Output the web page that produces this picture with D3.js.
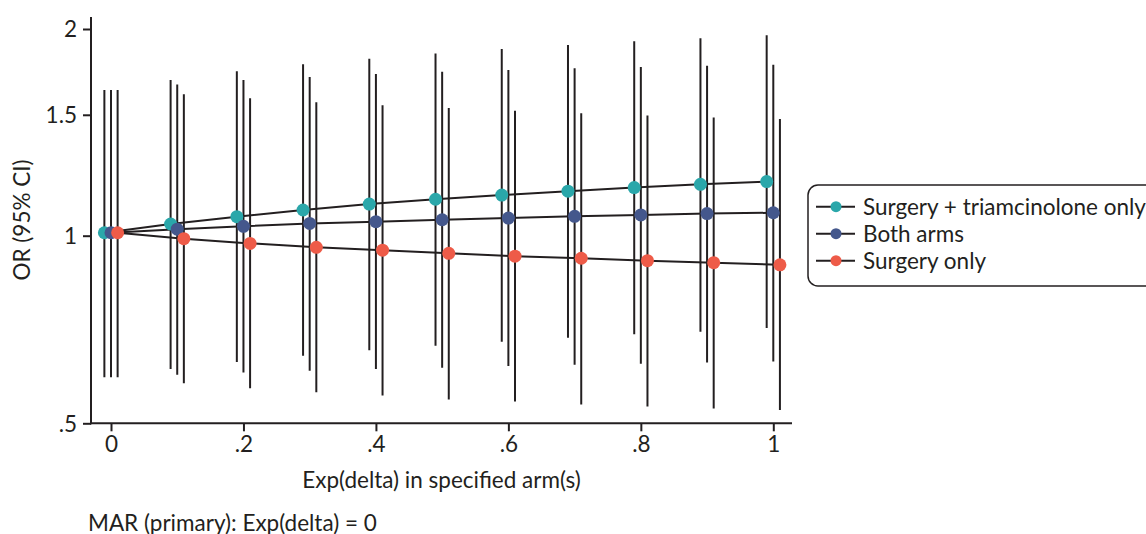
<!DOCTYPE html>
<html>
<head>
<meta charset="utf-8">
<script src="https://cdn.jsdelivr.net/npm/d3@7"></script>
<style>
  body { margin: 0; background: #fff; }
  svg { display: block; font-family: Lato, "Open Sans", sans-serif; }
</style>
</head>
<body>
<svg width="1146" height="534"></svg>
<script>
// Exp(delta) values on the x axis
const deltas = [0, 0.1, 0.2, 0.3, 0.4, 0.5, 0.6, 0.7, 0.8, 0.9, 1];

const seriesNames = ['Surgery + triamcinolone only', 'Both arms', 'Surgery only'];

// OR estimates
const orTriam = [1.01, 1.040, 1.066, 1.090, 1.112, 1.130, 1.146, 1.161, 1.175, 1.188, 1.199];
const orBoth  = [1.01, 1.022, 1.032, 1.042, 1.048, 1.055, 1.061, 1.067, 1.072, 1.077, 1.080];
const orSurg  = [1.01, 0.989, 0.972, 0.958, 0.948, 0.937, 0.927, 0.920, 0.912, 0.905, 0.898];

// 95% CI bounds
const loTriam = [0.593, 0.611, 0.627, 0.642, 0.655, 0.666, 0.676, 0.686, 0.695, 0.701, 0.711];
const hiTriam = [1.630, 1.686, 1.736, 1.777, 1.810, 1.843, 1.870, 1.895, 1.919, 1.939, 1.958];
const loBoth  = [0.593, 0.598, 0.603, 0.607, 0.611, 0.614, 0.618, 0.621, 0.623, 0.626, 0.628];
const hiBoth  = [1.630, 1.661, 1.686, 1.703, 1.720, 1.733, 1.743, 1.753, 1.761, 1.768, 1.774];
const loSurg  = [0.593, 0.580, 0.569, 0.561, 0.554, 0.546, 0.542, 0.536, 0.532, 0.528, 0.525];
const hiSurg  = [1.630, 1.607, 1.585, 1.564, 1.549, 1.535, 1.521, 1.508, 1.497, 1.487, 1.479];

const xTicks = [0, 0.2, 0.4, 0.6, 0.8, 1];
const xTickLabels = ['0', '.2', '.4', '.6', '.8', '1'];
const yTicks = [2, 1.5, 1, 0.5];
const yTickLabels = ['2', '1.5', '1', '.5'];

const COLORS = ['#2aa7aa', '#44578c', '#ee5b48'];
const OFFSETS = [-0.01, 0, 0.01];
const INK = '#231f20';
const FONT = 22.5;

const series = seriesNames.map((name, i) => ({
    name: name,
    color: COLORS[i],
    offset: OFFSETS[i],
    values: deltas.map((d, j) => ({
        x: d,
        or: [orTriam, orBoth, orSurg][i][j],
        lo: [loTriam, loBoth, loSurg][i][j],
        hi: [hiTriam, hiBoth, hiSurg][i][j]
    }))
}));

var svg = d3.select('svg');

/* scales */
var x = d3.scaleLinear()
    .domain([0, 1])
    .range([111, 773.3]);

// log scale, drawn piecewise like the original
var y = d3.scaleLog()
    .domain([0.5, 1, 2])
    .range([423.3, 235.7, 29]);

const plotLeft = 91, plotRight = 792, plotTop = 17, plotBottom = 423.3;

/* CI bars */
series.forEach(s => {
    svg.append('g')
        .selectAll('line')
        .data(s.values)
        .join('line')
        .attr('x1', d => x(d.x + s.offset))
        .attr('x2', d => x(d.x + s.offset))
        .attr('y1', d => y(d.lo))
        .attr('y2', d => y(d.hi))
        .attr('stroke', INK)
        .attr('stroke-width', 2);
});

/* connecting lines */
series.forEach(s => {
    svg.append('path')
        .datum(s.values)
        .attr('fill', 'none')
        .attr('stroke', INK)
        .attr('stroke-width', 2)
        .attr('d', d3.line()
            .x(d => x(d.x + s.offset))
            .y(d => y(d.or)));
});

/* points */
series.forEach(s => {
    svg.append('g')
        .selectAll('circle')
        .data(s.values)
        .join('circle')
        .attr('cx', d => x(d.x + s.offset))
        .attr('cy', d => y(d.or))
        .attr('r', 6.5)
        .attr('fill', s.color);
});

/* axes */
var xAxis = svg.append('g')
    .attr('transform', 'translate(0,' + plotBottom + ')')
    .call(d3.axisBottom(x)
        .tickValues(xTicks)
        .tickFormat((d, i) => xTickLabels[i])
        .tickSize(8)
        .tickPadding(5));

var yAxis = svg.append('g')
    .attr('transform', 'translate(' + plotLeft + ',0)')
    .call(d3.axisLeft(y)
        .tickValues(yTicks)
        .tickFormat((d, i) => yTickLabels[i])
        .tickSize(8)
        .tickPadding(6));

[xAxis, yAxis].forEach(a => {
    a.select('.domain').remove();
    a.selectAll('.tick line').attr('stroke', INK).attr('stroke-width', 2);
    a.selectAll('.tick text')
        .attr('fill', INK)
        .style('font-size', FONT + 'px')
        .style('font-family', 'Lato, sans-serif');
});
yAxis.selectAll('.tick text').attr('dy', '0.35em');

svg.append('line')
    .attr('x1', plotLeft).attr('x2', plotLeft)
    .attr('y1', plotTop).attr('y2', plotBottom + 1)
    .attr('stroke', INK).attr('stroke-width', 2);
svg.append('line')
    .attr('x1', plotLeft - 1).attr('x2', plotRight)
    .attr('y1', plotBottom).attr('y2', plotBottom)
    .attr('stroke', INK).attr('stroke-width', 2);

/* titles */
svg.append('text')
    .attr('x', (plotLeft + plotRight) / 2)
    .attr('y', 488)
    .attr('text-anchor', 'middle')
    .attr('fill', INK)
    .style('font-size', FONT + 'px')
    .text('Exp(delta) in specified arm(s)');

svg.append('text')
    .attr('transform', 'translate(30,' + 220 + ') rotate(-90)')
    .attr('text-anchor', 'middle')
    .attr('fill', INK)
    .style('font-size', FONT + 'px')
    .text('OR (95% CI)');

svg.append('text')
    .attr('x', 88)
    .attr('y', 531)
    .attr('fill', INK)
    .style('font-size', FONT + 'px')
    .text('MAR (primary): Exp(delta) = 0');

/* legend */
var legend = svg.append('g');
legend.append('rect')
    .attr('x', 808).attr('y', 185)
    .attr('width', 380).attr('height', 101)
    .attr('rx', 10)
    .attr('fill', '#fff')
    .attr('stroke', INK)
    .attr('stroke-width', 1.5);

var rows = legend.selectAll('g.row')
    .data(series)
    .join('g')
    .attr('class', 'row')
    .attr('transform', (d, i) => 'translate(0,' + (206.7 + i * 27) + ')');

rows.append('line')
    .attr('x1', 816).attr('x2', 855)
    .attr('stroke', INK).attr('stroke-width', 2);
rows.append('circle')
    .attr('cx', 836).attr('r', 5.5)
    .attr('fill', d => d.color);
rows.append('text')
    .attr('x', 863)
    .attr('dy', '0.35em')
    .attr('fill', INK)
    .style('font-size', FONT + 'px')
    .text(d => d.name);
</script>
</body>
</html>
